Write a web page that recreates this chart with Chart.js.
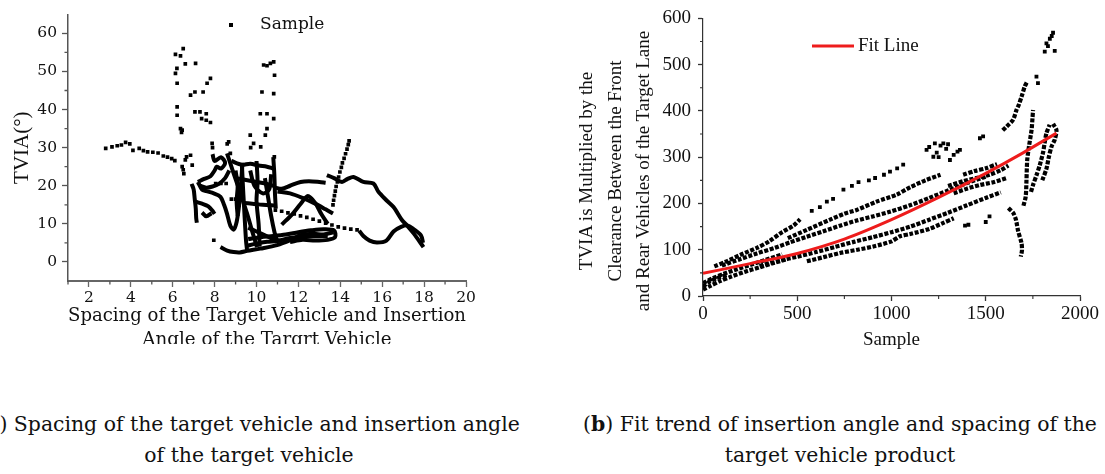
<!DOCTYPE html>
<html>
<head>
<meta charset="utf-8">
<script src="https://cdn.jsdelivr.net/npm/chart.js@4.4.0/dist/chart.umd.min.js"></script>
<style>
  html, body { margin: 0; padding: 0; background: #fff; }
  body { width: 1105px; height: 474px; position: relative; overflow: hidden; color: #111; }
  .panel { position: absolute; top: 0; overflow: hidden; }
  #panel-a { left: 0; width: 480px; height: 344px; }
  #panel-b { left: 560px; width: 545px; height: 360px; }
  .caption {
    position: absolute; top: 409px; transform: translateX(-50%);
    font-family: 'DejaVu Serif', serif; font-size: 20.4px; line-height: 31px;
    text-align: center; white-space: nowrap;
  }
  .ytitle-b {
    position: absolute; left: 455px; top: 128px; width: 320px; height: 86px;
    font-family: 'Liberation Serif', serif; font-size: 19px; line-height: 28.5px;
    text-align: center; white-space: nowrap; transform: rotate(-90deg);
  }
</style>
</head>
<body>
<div class="panel" id="panel-a"><canvas id="chart-a" width="480" height="360"></canvas></div>
<div class="panel" id="panel-b"><canvas id="chart-b" width="545" height="360"></canvas></div>
<div class="ytitle-b">TVIA is Multiplied by the<br>Clearance Between the Front<br>and Rear Vehicles of the Target Lane</div>
<div class="caption" style="left:249px">(<b>a</b>) Spacing of the target vehicle and insertion angle<br>of the target vehicle</div>
<div class="caption" style="left:840px">(<b>b</b>) Fit trend of insertion angle and spacing of the<br>target vehicle product</div>

<script>
/* ── panel (a): spacing vs insertion angle ── */
const spacingTicks = [2, 4, 6, 8, 10, 12, 14, 16, 18, 20];
const spacingMinor = [1, 3, 5, 7, 9, 11, 13, 15, 17, 19];
const angleTicks = [0, 10, 20, 30, 40, 50, 60];
const angleMinor = [5, 15, 25, 35, 45, 55];

// loose samples: upper clusters and stray points
const looseSamples = [
  [6.5,56.0],[6.13,54.5],[6.37,54.1],[6.6,52.0],[7.09,52.1],[6.13,49.5],[6.21,46.9],[6.2,50.8],
  [6.85,43.8],[7.06,44.6],[7.64,46.9],[7.8,48.2],[7.45,44.6],[6.21,40.7],[6.21,38.5],[6.37,35.0],
  [6.45,34.6],[6.42,34.0],[7.06,39.4],[7.3,39.4],[7.38,37.6],[7.6,37.2],[7.6,38.9],[7.8,36.6],
  [6.85,28.0],[6.93,25.4],[6.53,23.2],[6.45,25.0],[6.66,27.6],[6.6,26.8],[6.5,24.2],
  [10.34,51.7],[10.5,51.5],[10.66,52.1],[10.82,52.5],[10.86,49.0],[10.26,44.6],[10.82,44.2],
  [10.18,38.9],[10.5,38.9],[10.82,37.6],[10.5,35.0],[10.42,33.3],[9.7,33.3],[9.86,31.1],
  [9.72,30.0],[10.2,30.2],[10.85,27.6],[8.67,31.5],[8.6,31.0],[8.75,28.5],[7.88,31.1],[7.9,30.0]
];
const driftDots = [
  [2.8,29.8],[3.1,30.2],[3.35,30.5],[3.55,30.7],[3.75,31.4],[3.95,31.0],[4.1,29.3],[4.4,29.8],
  [4.6,29.2],[4.8,28.9],[5.05,28.8],[5.3,28.6],[5.55,27.8],[5.75,27.5],[5.95,27.1],[6.1,26.6]
];
const crossDots = [
  [10.9,13.6],[11.2,13.3],[11.5,12.9],[11.8,12.6],[12.1,12.1],[12.4,11.7],[12.7,11.2],[13.0,10.7],
  [13.3,10.2],[13.6,9.7],[13.9,9.2],[14.2,8.9],[14.5,8.6],[14.8,8.4]
];
const riseDots = [
  [13.65,15.0],[13.68,16.2],[13.72,17.4],[13.76,18.6],[13.8,19.8],[13.86,21.0],[13.92,22.3],[13.98,23.6],
  [14.05,24.8],[14.1,26.0],[14.18,27.2],[14.25,28.4],[14.32,29.6],[14.38,30.8],[14.42,31.8]
];
const shortDots = [[8.05,20.6],[8.3,20.6],[8.55,20.6],[8.8,16.5],[9.0,16.5],[9.2,16.3],[7.96,5.7]];

// dense runs of samples, drawn as thick traces
const runBand7 = [[6.9,20.5],[7.0,19.0],[7.05,16.5],[7.1,14.0],[7.12,11.5],[7.15,10.3]];
const runFlat15 = [[7.1,15.8],[7.4,15.3],[7.7,14.6],[7.9,13.4],[8.0,12.6]];
const runWave = [[7.2,21.0],[7.4,19.0],[7.6,18.6],[7.96,18.0],[8.28,17.1],[8.45,15.0],[8.59,12.7],[8.75,9.5],[8.91,8.5],[9.05,10.5],[9.15,14.0],[9.22,18.0],[9.28,22.0],[9.32,25.5]];
const runBlob8 = [[7.2,21.0],[7.5,21.8],[7.8,22.5],[8.0,24.0],[8.1,25.0],[8.3,24.5],[8.5,26.0],[8.3,27.5],[8.0,26.5],[7.9,28.3]];
const runDiag = [[8.59,28.5],[8.91,23.2],[9.23,18.0],[9.55,12.7],[9.78,8.3],[10.02,3.9]];
const runV94 = [[9.3,26],[9.35,20],[9.4,15],[9.45,10],[9.5,5.5],[9.55,3.0]];
const runV100 = [[10.0,26.5],[10.05,21],[10.0,16],[10.1,10],[10.15,4.0]];
const runSlant = [[10.4,22],[10.55,17],[10.7,12],[10.85,8],[11.0,5]];
const runV108 = [[10.8,27.5],[10.85,23],[10.88,18],[10.92,14]];
const runFlat25 = [[8.8,26.5],[9.3,25.5],[9.7,25.8],[10.1,25.3],[10.5,25.0],[10.8,24.5]];
const runFlat21 = [[9.0,22.0],[9.5,21.5],[10.0,21.0],[10.5,20.5],[10.9,19.8]];
const runFlat15b = [[9.4,15.5],[9.8,15.3],[10.3,15.0],[10.9,14.8]];
const runFloor = [[8.28,3.9],[8.6,3.0],[8.91,2.6],[9.2,2.5],[9.55,2.9],[10.18,3.5],[10.98,4.4],[11.61,5.7],[12.09,7.0],[12.72,7.4],[13.2,7.2],[13.68,7.8]];
const runLoop = [[9.6,6.0],[10.2,6.5],[10.8,6.8],[11.4,7.2],[12.0,7.8],[12.6,8.3],[13.2,8.6],[13.7,8.3],[13.75,6.5],[13.4,5.8],[12.8,5.6],[12.2,5.8],[11.6,5.2]];
const runTop21 = [[10.9,19.5],[11.2,19.2],[11.6,20.0],[12.1,21.0],[12.5,21.2],[13.0,21.0],[13.3,20.8]];
const runFall = [[11.0,18.5],[11.6,18.0],[12.2,16.8],[12.8,15.3],[13.3,13.8],[13.65,12.7]];
const runHump = [[11.2,9.8],[11.7,12.5],[12.1,15.2],[12.45,17.3],[12.8,15.5],[13.1,12.5],[13.4,10.0]];
const runFar = [[13.36,22.8],[13.7,22.0],[14.08,21.0],[14.35,21.8],[14.63,22.3],[15.1,21.0],[15.58,20.6],[15.82,18.4],[16.2,16.2],[16.54,14.4],[16.94,11.0],[17.18,9.6],[17.5,7.5],[17.97,3.9]];
const runDip = [[14.9,8.2],[15.1,6.8],[15.4,5.6],[15.75,5.1],[16.2,5.6],[16.54,8.0],[16.9,9.2],[17.2,9.6],[17.5,8.6],[17.85,7.0],[17.95,5.0]];
const runRise8 = [[7.3,20.0],[7.6,19.5],[7.9,19.8],[8.2,20.5],[8.5,22.0],[8.7,24.0]];
const runV90 = [[9.0,24.0],[9.1,20.0],[9.05,16.0],[9.1,12.0]];
const runMid8 = [[9.6,9.0],[10.0,8.0],[10.4,7.0],[10.8,6.0],[11.2,5.5]];
const runLow5 = [[9.5,4.2],[10.0,4.8],[10.5,5.3],[11.0,5.5],[11.6,6.3],[12.2,6.6],[12.8,6.8],[13.4,6.8]];
const runArch = [[9.7,24.0],[9.9,20.0],[10.3,18.0],[10.6,19.0],[10.7,23.0]];
const runHook = [[7.4,13.0],[7.6,12.0],[7.85,12.8]];

/* ── panel (b): product vs sample index ── */
const sampleTicks = [0, 500, 1000, 1500, 2000];
const sampleMinor = [250, 750, 1250, 1750];
const productTicks = [0, 100, 200, 300, 400, 500, 600];
const productMinor = [50, 150, 250, 350, 450, 550];

const fitSample  = [0, 250, 500, 750, 1000, 1250, 1500, 1700, 1875];
const fitProduct = [49, 70, 92, 123, 165, 213, 265, 310, 352];

const bandStartA = [[0,14],[40,22],[90,32],[150,42],[220,52],[300,62],[380,72],[450,80]];
const bandStartB = [[0,28],[50,38],[110,48],[180,58],[250,67],[330,78],[420,90]];
const bandStartC = [[0,20],[30,30],[70,38],[130,46]];
const bandUpper  = [[60,64],[120,74],[198,89],[286,104],[350,118],[420,138],[480,152],[515,166]];
const bandHigh   = [[450,125],[551,143],[674,165],[750,178],[815,186],[921,204],[1027,219],[1098,235],[1180,250],[1260,262]];
const bandAbove  = [[100,66],[200,80],[286,92],[380,104],[462,116],[550,128],[639,140],[727,152],[815,163],[900,172],[992,182],[1098,196],[1200,212],[1300,228],[1400,244],[1500,258]];
const bandBelow  = [[300,65],[400,76],[500,85],[600,95],[700,106],[800,117],[900,127],[1000,138],[1100,150],[1200,165],[1300,180],[1400,196],[1500,212],[1580,224]];
const bandLowest = [[551,75],[640,84],[727,93],[820,100],[904,107],[1000,118],[1045,129],[1100,134],[1200,145],[1275,158],[1330,168]];
const knotA = [[1300,238],[1380,248],[1450,255],[1520,262],[1580,272],[1620,282]];
const knotB = [[1330,222],[1400,232],[1470,240],[1540,246],[1610,255]];
const knotC = [[1380,262],[1440,270],[1500,276],[1560,285]];
const tailDown = [[1620,190],[1645,180],[1660,165],[1672,140],[1690,114],[1692,98],[1686,85]];
const riseA = [[1700,195],[1712,215],[1716,250],[1720,294],[1730,325],[1743,359],[1748,385],[1751,402]];
const riseB = [[1740,225],[1751,240],[1770,262],[1786,282],[1804,310],[1812,330],[1822,352],[1839,370]];
const riseC = [[1800,250],[1822,275],[1835,301],[1849,323],[1866,338],[1875,359],[1857,372]];
const arcTop = [[1590,358],[1610,366],[1645,381],[1663,402],[1675,413],[1690,431],[1707,453],[1718,462]];
const strayProduct = [
  [577,184],[620,192],[657,204],[690,210],[745,230],[790,238],[825,246],[880,250],[913,255],[960,262],
  [992,269],[1030,276],[1062,284],[1186,316],[1200,322],[1222,301],[1240,310],[1260,325],[1275,330],
  [1290,318],[1310,294],[1330,305],[1350,312],[1363,316],[1230,330],[1300,328],[1250,300],[1390,152],
  [1408,154],[1500,160],[1520,172],[1469,341],[1486,345],[1769,474],[1777,460],[1813,528],[1822,546],
  [1830,540],[1840,556],[1850,562],[1857,569],[1866,530]
];

const toXY = pts => pts.map(([x, y]) => ({ x, y }));

// short minor ticks along both axes
const minorTicks = {
  id: 'minorTicks',
  afterDraw(chart, args, opts) {
    const { ctx, chartArea, scales } = chart;
    ctx.save();
    ctx.strokeStyle = opts.color;
    ctx.lineWidth = opts.width;
    ctx.beginPath();
    opts.x.forEach(v => {
      const px = scales.x.getPixelForValue(v);
      ctx.moveTo(px, chartArea.bottom); ctx.lineTo(px, chartArea.bottom + opts.len);
    });
    opts.y.forEach(v => {
      const py = scales.y.getPixelForValue(v);
      ctx.moveTo(chartArea.left, py); ctx.lineTo(chartArea.left - opts.len, py);
    });
    ctx.stroke();
    ctx.restore();
  }
};

// legend drawn inside the plot area
const insetLegend = {
  id: 'insetLegend',
  afterDatasetsDraw(chart, args, opts) {
    const ds = chart.data.datasets.find(d => d.label === opts.label);
    if (!ds) return;
    const ctx = chart.ctx;
    ctx.save();
    if (opts.symbol === 'line') {
      ctx.strokeStyle = ds.borderColor;
      ctx.lineWidth = ds.borderWidth;
      ctx.beginPath(); ctx.moveTo(opts.x, opts.y); ctx.lineTo(opts.x + opts.len, opts.y); ctx.stroke();
    } else {
      ctx.fillStyle = ds.backgroundColor;
      ctx.fillRect(opts.x - 2, opts.y - 2, 4, 4);
    }
    ctx.fillStyle = '#111';
    ctx.font = opts.font;
    ctx.textBaseline = 'middle';
    ctx.fillText(ds.label, opts.textX, opts.y);
    ctx.restore();
  }
};

function axis(opts) {
  return {
    type: 'linear', min: opts.min, max: opts.max,
    afterBuildTicks: s => { s.ticks = opts.ticks.map(v => ({ value: v })); },
    afterFit: s => { if (opts.width) s.width = opts.width; if (opts.height) s.height = opts.height; },
    ticks: { color: '#111', font: opts.font, padding: opts.pad, maxRotation: 0, autoSkip: false,
      callback: v => String(v) },
    grid: { display: true, drawOnChartArea: false, drawTicks: true, tickLength: opts.tick, color: opts.line, tickWidth: 1.3 },
    border: { display: true, color: opts.line, width: opts.lineWidth },
    title: opts.title
  };
}

const serifA = 'DejaVu Serif';
const serifB = 'Liberation Serif';

const pathsA = [runBand7, runFlat15, runWave, runBlob8, runDiag, runV94, runV100, runSlant, runV108,
  runFlat25, runFlat21, runFlat15b, runFloor, runLoop, runTop21, runFall, runHump, runFar, runDip,
  runRise8, runV90, runMid8, runLow5, runArch, runHook];

new Chart(document.getElementById('chart-a'), {
  type: 'scatter',
  data: {
    datasets: [
      { label: 'Sample', data: toXY([].concat(looseSamples, driftDots, crossDots, riseDots, shortDots)),
        pointStyle: 'rect', pointRadius: 2.6, backgroundColor: '#000', borderWidth: 0 },
      ...pathsA.map(p => ({ label: '', data: toXY(p), showLine: true, borderColor: '#000',
        borderWidth: 4, pointRadius: 0, tension: 0.3 }))
    ]
  },
  options: {
    responsive: false, animation: false, events: [],
    layout: { padding: { left: 0, right: 14, top: 14, bottom: 0 } },
    plugins: {
      legend: { display: false }, tooltip: { enabled: false },
      minorTicks: { x: spacingMinor, y: angleMinor, len: 3.5, color: '#555', width: 1.3 },
      insetLegend: { label: 'Sample', symbol: 'rect', x: 231, y: 25, textX: 260, font: `17px "${serifA}"` }
    },
    scales: {
      x: axis({ min: 1, max: 20, ticks: spacingTicks, height: 79, tick: 6, pad: 2, line: '#666', lineWidth: 2,
        font: { family: serifA, size: 15.5 },
        title: { display: true, text: ['Spacing of the Target Vehicle and Insertion', 'Angle of the Targrt Vehicle'],
          color: '#111', font: { family: serifA, size: 18.3, lineHeight: 1.31 }, padding: { top: 0, bottom: 8 } } }),
      y: axis({ min: -5, max: 65, ticks: angleTicks, width: 68, tick: 6, pad: 5, line: '#555', lineWidth: 1.5,
        font: { family: serifA, size: 15.5 },
        title: { display: true, text: 'TVIA(°)', color: '#111',
          font: { family: serifB, size: 21 }, padding: { top: 10, bottom: 0 } } })
    }
  },
  plugins: [minorTicks, insetLegend]
});

const pathsB = [bandStartA, bandStartB, bandStartC, bandUpper, bandHigh, bandAbove, bandBelow, bandLowest,
  knotA, knotB, knotC, tailDown, riseA, riseB, riseC, arcTop];

new Chart(document.getElementById('chart-b'), {
  type: 'scatter',
  data: {
    datasets: [
      { label: 'Fit Line', data: fitSample.map((x, i) => ({ x, y: fitProduct[i] })), showLine: true,
        borderColor: '#ee1c1c', borderWidth: 3, pointRadius: 0, cubicInterpolationMode: 'monotone' },
      { label: '', data: toXY(strayProduct), pointStyle: 'rect', pointRadius: 2.7, backgroundColor: '#000', borderWidth: 0 },
      ...pathsB.map(p => ({ label: '', data: toXY(p), showLine: true, borderColor: '#000', borderWidth: 4.2,
        borderDash: [4, 1.6], pointRadius: 0, tension: 0.25 }))
    ]
  },
  options: {
    responsive: false, animation: false, events: [],
    layout: { padding: { left: 0, right: 25, top: 18, bottom: 0 } },
    plugins: {
      legend: { display: false }, tooltip: { enabled: false },
      minorTicks: { x: sampleMinor, y: productMinor, len: 3, color: '#333', width: 1.1 },
      insetLegend: { label: 'Fit Line', symbol: 'line', x: 252, y: 46, len: 42, textX: 298, font: `19px "${serifB}"` }
    },
    scales: {
      x: axis({ min: 0, max: 2000, ticks: sampleTicks, height: 64, tick: 5, pad: 2, line: '#333', lineWidth: 1.2,
        font: { family: serifB, size: 19 },
        title: { display: true, text: 'Sample', color: '#111', font: { family: serifB, size: 19 },
          padding: { top: 0, bottom: 9 } } }),
      y: axis({ min: 0, max: 600, ticks: productTicks, width: 143, tick: 5, pad: 7, line: '#333', lineWidth: 1.2,
        font: { family: serifB, size: 19 }, title: { display: false } })
    }
  },
  plugins: [minorTicks, insetLegend]
});
</script>
</body>
</html>
